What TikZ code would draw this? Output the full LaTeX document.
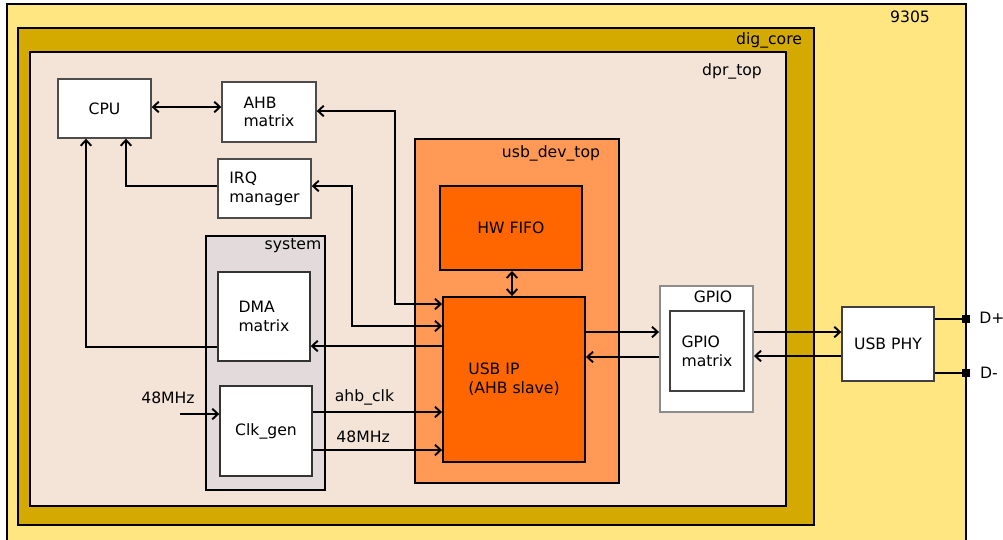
\documentclass[tikz,border=0pt]{standalone}
\usepackage{fontspec}
\setmainfont{DejaVu Sans}
\usetikzlibrary{arrows.meta}
\definecolor{chipyel}{HTML}{FFE680}
\definecolor{coregold}{HTML}{D4AA00}
\definecolor{dprbeige}{HTML}{F4E3D7}
\definecolor{sysgrey}{HTML}{E3DBDB}
\definecolor{usblight}{HTML}{FF9955}
\definecolor{usbdark}{HTML}{FF6600}
\tikzset{
  sz/.style 2 args={minimum width=#1*0.02cm, minimum height=#2*0.02cm},
  frame/.style={draw=black, line width=1.1pt, inner sep=0pt},
  blk/.style={draw=black!70, line width=0.8pt, fill=white, inner sep=0pt, align=left},
  sig/.style={line width=1.1pt},
  pin/.style={fill=black, inner sep=0pt, minimum size=0.16cm}
}
\begin{document}
\begin{tikzpicture}[x=0.02cm,y=-0.02cm,font=\fontsize{8.9}{10.6}\selectfont,
  >={Straight Barb[length=3.2pt,width=6pt]}]
\fill[white] (0,0) rectangle (1003,539);
\useasboundingbox (0,0) rectangle (1003,539);

% nested frames
\node[frame, fill=chipyel, sz={959}{560}] (chip) at (486.5,284) {};
\node (chiplbl) at (910,17) {9305};
\node[frame, fill=coregold, sz={796}{497}] (digcore) at (416,276.5) {};
\node (digcorelbl) at (769,40) {dig\_core};
\node[frame, fill=dprbeige, sz={756}{454}] (dprtop) at (408,279) {};
\node (dprtoplbl) at (732,71) {dpr\_top};

% CPU side
\node[blk, sz={93}{59}] (cpu) at (104.5,108.5) {CPU};
\node[blk, sz={94}{60}] (ahb) at (269,112) {AHB\\matrix};
\node[blk, sz={93}{59}] (irq) at (264.5,188.5) {IRQ\\manager};

\node[frame, fill=sysgrey, sz={119}{254}] (system) at (265.5,363) {};
\node (systemlbl) at (293,246) {system};
\node[blk, draw=black!80, sz={92}{89}] (dma) at (264,316.5) {DMA\\matrix};
\node[blk, draw=black!80, sz={92}{90}] (clkgen) at (266,431) {Clk\_gen};

% USB device
\node[frame, fill=usblight, sz={204}{344}] (usbdev) at (517,311) {};
\node (usbdevlbl) at (551,153) {usb\_dev\_top};
\node[frame, fill=usbdark, sz={142}{84}] (fifo) at (511,228) {HW FIFO};
\node[frame, fill=usbdark, sz={142}{165}, align=left] (usbip) at (514,379.5) {USB IP\\(AHB slave)};

% GPIO and PHY
\node[blk, draw=black!45, line width=1.1pt, sz={93}{126}] (gpio) at (706.5,349) {};
\node (gpiolbl) at (713,297) {GPIO};
\node[blk, draw=black!75, sz={74}{80}] (gpiomx) at (707,351) {GPIO\\matrix};
\node[blk, draw=black!75, sz={92}{74}] (phy) at (888,344) {USB PHY};
\node[pin] (dp) at (966,319) {};
\node[pin] (dm) at (966,373) {};
\node (dplbl) at (992,318) {D+};
\node (dmlbl) at (989,373) {D-};

\coordinate (clkin) at (180,414);
\node (clkinlbl) at (168,398) {48MHz};

% signals
\draw[sig,<->] (cpu.east |- 0,107) -- (ahb.west |- 0,107);
\draw[sig,<->] (ahb.east |- 0,111) -- (395,111) -- (395,304) -- (usbip.west |- 0,304);
\draw[sig,<->] (irq.east |- 0,186) -- (352,186) -- (352,326) -- (usbip.west |- 0,326);
\draw[sig,->] (irq.west |- 0,186) -| (126,0 |- cpu.south);
\draw[sig,->] (dma.west |- 0,347) -| (86,0 |- cpu.south);
\draw[sig,->] (usbip.west |- 0,346) -- (dma.east |- 0,346);
\draw[sig,->] (clkin) -- (clkgen.west |- clkin);
\draw[sig,->] (clkgen.east |- 0,412) -- node[pos=0.4,above] (ahbclklbl) {ahb\_clk} (usbip.west |- 0,412);
\draw[sig,->] (clkgen.east |- 0,450) -- node[pos=0.39,above] (mhzlbl) {48MHz} (usbip.west |- 0,450);
\draw[sig,<->] (fifo.south -| 512,0) -- (usbip.north -| 512,0);
\draw[sig,->] (usbip.east |- 0,332) -- (gpio.west |- 0,332);
\draw[sig,->] (gpio.west |- 0,357) -- (usbip.east |- 0,357);
\draw[sig,->] (gpio.east |- 0,332) -- (phy.west |- 0,332);
\draw[sig,->] (phy.west |- 0,356) -- (gpio.east |- 0,356);
\draw[sig] (phy.east |- dp) -- (dp);
\draw[sig] (phy.east |- dm) -- (dm);
\end{tikzpicture}
\end{document}
